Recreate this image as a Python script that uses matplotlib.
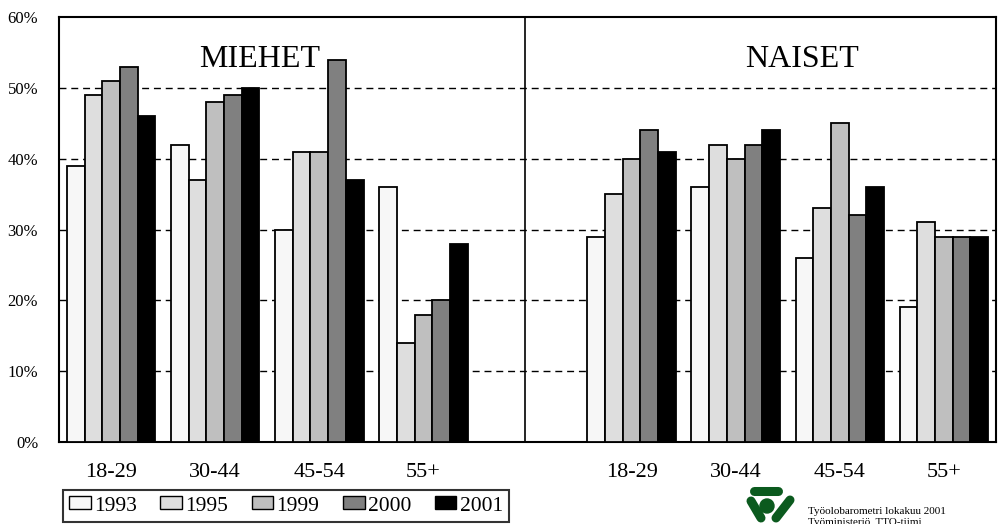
import matplotlib
matplotlib.use("Agg")
import matplotlib.pyplot as plt
from matplotlib.patches import Patch, Circle
import numpy as np

plt.rcParams['font.family'] = ['Liberation Serif', 'DejaVu Serif']

years = ['1993', '1995', '1999', '2000', '2001']
ages = ['18-29', '30-44', '45-54', '55+']
colors = ['#f7f7f7', '#dedede', '#bfbfbf', '#808080', '#000000']

# rows = age group, cols = year
miehet = [[39, 49, 51, 53, 46],
          [42, 37, 48, 49, 50],
          [30, 41, 41, 54, 37],
          [36, 14, 18, 20, 28]]
naiset = [[29, 35, 40, 44, 41],
          [36, 42, 40, 42, 44],
          [26, 33, 45, 32, 36],
          [19, 31, 29, 29, 29]]

fig = plt.figure(figsize=(10.01, 5.24), dpi=100)
ax = fig.add_axes([59/1001, 82/524, 937/1001, 425/524])

men_x = np.arange(4)
women_x = np.arange(4) + 5
w = 0.17
for j, yr in enumerate(years):
    off = (j - 2) * w
    ax.bar(men_x + off, [r[j] for r in miehet], w, color=colors[j],
           edgecolor='black', linewidth=1.3, zorder=3)
    ax.bar(women_x + off, [r[j] for r in naiset], w, color=colors[j],
           edgecolor='black', linewidth=1.3, zorder=3)

ax.set_xlim(-0.5, 8.5)
ax.set_ylim(0, 60)
ax.set_yticks(range(0, 61, 10))
ax.set_yticklabels([f'{v}%' for v in range(0, 61, 10)], fontsize=12)
ax.set_xticks(list(men_x) + list(women_x))
ax.set_xticklabels(ages + ages, fontsize=16)
ax.tick_params(axis='y', length=0, pad=15)
ax.tick_params(axis='x', length=0, pad=15)

for v in range(10, 60, 10):
    ax.axhline(v, color='black', lw=1.0, ls=(0, (5, 3.5)), zorder=1)
ax.axvline(3.98, color='black', lw=1.2, zorder=2)
for s in ax.spines.values():
    s.set_linewidth(1.5)

ax.text(1.43, 54.0, 'MIEHET', fontsize=23, ha='center', va='center')
ax.text(6.64, 54.0, 'NAISET', fontsize=23, ha='center', va='center')

handles = [Patch(facecolor=c, edgecolor='black', linewidth=1.0) for c in colors]
leg = fig.legend(handles, years, ncol=5, loc='center',
                 bbox_to_anchor=(286/1001, 18/524), fontsize=15.5,
                 frameon=True, fancybox=False, handlelength=1.0,
                 handleheight=0.55, handletextpad=0.15, columnspacing=1.1,
                 borderpad=0.3, borderaxespad=0)
leg.get_frame().set_edgecolor('black')
leg.get_frame().set_linewidth(1.5)

# logo
lg = fig.add_axes([735/1001, 0, 70/1001, 42/524])
lg.set_xlim(735, 805)
lg.set_ylim(524, 482)
lg.axis('off')
green = '#0b5a1e'
lg.plot([754, 778], [491, 491], color=green, lw=6.5, solid_capstyle='round')
lg.plot([751, 761], [501, 518], color=green, lw=6.5, solid_capstyle='round')
lg.plot([790, 776], [500, 518], color=green, lw=6.5, solid_capstyle='round')
lg.add_patch(Circle((767, 506), 7, color=green))

fig.text(808/1001, (524-514)/524, 'Työolobarometri lokakuu 2001', fontsize=8)
fig.text(808/1001, (524-525)/524, 'Työministeriö, TTO-tiimi', fontsize=8)

fig.savefig('out.png', dpi=100, facecolor='white')
